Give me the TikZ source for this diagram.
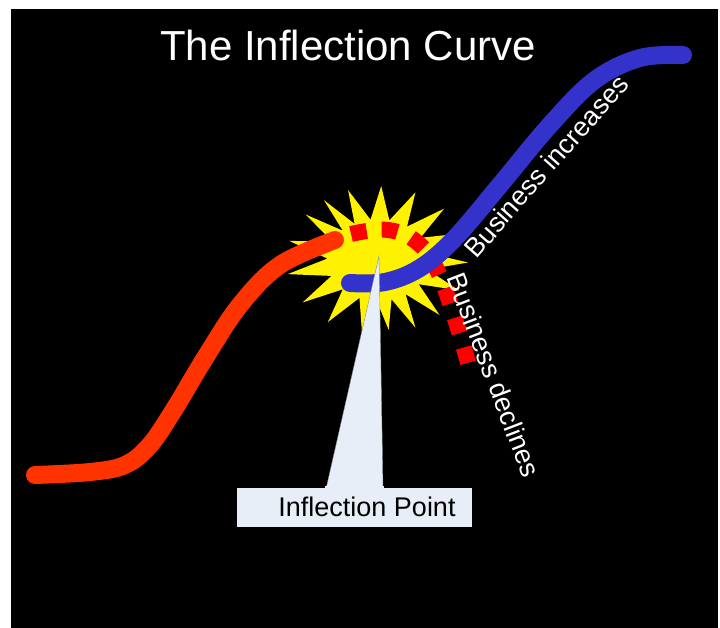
\documentclass[tikz,border=0pt]{standalone}
\usepackage{fontspec}
\setmainfont{Liberation Sans}
\usetikzlibrary{calc}
\begin{document}
\begin{tikzpicture}[x=1pt,y=-1pt,
  curveline/.style={line width=18pt,line cap=round,line join=round},
  calloutfill/.style={fill=calloutc,draw=calloutc!60!black,line width=0.4pt},
  lbl/.style={text=white,font=\fontsize{27}{27}\selectfont,inner sep=0pt}]
\definecolor{redc}{HTML}{FF3300}
\definecolor{bluec}{HTML}{3333CC}
\definecolor{calloutc}{HTML}{E8EEF8}
\definecolor{dashred}{HTML}{FF0000}
\useasboundingbox (0,0) rectangle (720,628);
\fill[white] (0,0) rectangle (720,628);
\fill[black] (11,9) rectangle (718,628);
% starburst
\coordinate (sc) at (378,260);
\fill[yellow] ($(sc)+(2:90 and 72)$)
  \foreach \a/\f in {13.5/0.55,25/0.97,36.5/0.55,48/1.0,57/0.55,66/1.0,74.5/0.55,83/0.95,91.5/0.55,100/1.0,111.5/0.55,123/1.0,134/0.55,145/1.0,157/0.55,169/1.0,182/0.55,195/1.0,206.5/0.55,218/1.0,226/0.55,234/1.0,242.5/0.55,251/1.0,261.5/0.55,272/1.0,283/0.55,294/1.0,305/0.55,316/1.0,327/0.55,338/0.95,350/0.55}
  { -- ($(sc)+(\a:{92*\f} and {74*\f})$) } -- cycle;
% red curve
\draw[curveline,redc] plot[smooth,tension=0.6] coordinates
  {(35,475) (90,472) (125,465) (150,445) (175,408) (205,358) (240,305) (280,265) (335,240)};
% red dashed continuation
\draw[dashred,line width=16pt,dash pattern=on 16pt off 15pt] plot[smooth,tension=0.7] coordinates
  {(351,234) (388,230) (418,243) (438,272) (456,322) (470,370)};
% blue curve
\draw[curveline,bluec] plot[smooth,tension=0.6] coordinates
  {(350,283) (385,282) (420,268) (455,238) (500,185) (550,125) (595,80) (640,58) (683,55)};
% callout
\fill[calloutc] (237,488) rectangle (472,527);
\filldraw[calloutfill] (326,489) -- (379,256) -- (383,489);
\fill[calloutc] (325,486) rectangle (384,490);
\node[text=black,font=\fontsize{27}{27}\selectfont,inner sep=0pt] (ip) at (367,507) {Inflection Point};
% texts
\node[text=white,font=\fontsize{42}{42}\selectfont,inner sep=0pt] (title) at (348,45) {The Inflection Curve};
\node[lbl,rotate=48.5] (inc) at (546,166) {Business increases};
\node[lbl,rotate=-69] (dec) at (494,375) {Business declines};
\end{tikzpicture}
\end{document}
